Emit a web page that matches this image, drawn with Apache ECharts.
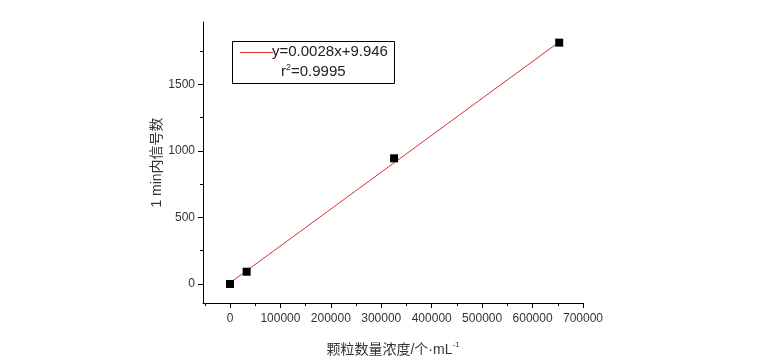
<!DOCTYPE html>
<html>
<head>
<meta charset="utf-8">
<script src="https://cdn.jsdelivr.net/npm/echarts@6/dist/echarts.min.js"></script>
<style>html,body{margin:0;padding:0;background:#fff;}#c{width:757px;height:360px;}</style>
</head>
<body>
<div id="c"></div>
<script>
// Data
var concX = [0, 33100, 325400, 652800];
var signalY = [0, 92, 944, 1813];
var fitX = [0, 652800];
var fitY = [8, 1818];
var xMajorTicks = [0, 100000, 200000, 300000, 400000, 500000, 600000, 700000];
var xMinorTicks = [-50000, 50000, 150000, 250000, 350000, 450000, 550000, 650000];
var yMajorTicks = [0, 500, 1000, 1500];
var yMinorTicks = [250, 750, 1250, 1750];
var fitLabel = 'y=0.0028x+9.946';
var r2Label = '0.9995';

var FONT = 'Liberation Sans, Arial, Noto Sans CJK SC, sans-serif';
var chart = echarts.init(document.getElementById('c'), null, {renderer: 'canvas'});

var xMin = -53500, xMax = 700000, yMin = -143, yMax = 1968;
function plain(v) { return String(v); }

function majorAxisX() {
  return {
    type: 'value', position: 'bottom', min: xMin, max: xMax,
    axisLine: {show: true, onZero: false, lineStyle: {color: '#000', width: 1}},
    axisTick: {show: true, inside: false, length: 5, customValues: xMajorTicks, lineStyle: {color: '#000'}},
    axisLabel: {show: true, customValues: xMajorTicks, formatter: plain, color: '#333', fontFamily: FONT, fontSize: 12, margin: 10},
    splitLine: {show: false},
    name: '颗粒数量浓度/个·mL{sup|-1}',
    nameLocation: 'middle', nameGap: 38, nameMoveOverlap: false,
    nameTextStyle: {color: '#333', fontFamily: FONT, fontSize: 14,
      rich: {sup: {fontSize: 8, verticalAlign: 'top', padding: [0,0,10,0], color: '#333', fontFamily: FONT}}}
  };
}
function minorAxisX() {
  return {
    type: 'value', position: 'bottom', min: xMin, max: xMax,
    axisLine: {show: false, onZero: false},
    axisTick: {show: true, inside: false, length: 3, customValues: xMinorTicks, lineStyle: {color: '#000'}},
    axisLabel: {show: false}, splitLine: {show: false}
  };
}
function majorAxisY() {
  return {
    type: 'value', position: 'left', min: yMin, max: yMax,
    axisLine: {show: true, onZero: false, lineStyle: {color: '#000', width: 1}},
    axisTick: {show: true, inside: false, length: 5, customValues: yMajorTicks, lineStyle: {color: '#000'}},
    axisLabel: {show: true, customValues: yMajorTicks, formatter: plain, color: '#333', fontFamily: FONT, fontSize: 12, margin: 8},
    splitLine: {show: false},
    name: '1 min内信号数',
    nameLocation: 'middle', nameGap: 39, nameRotate: 90, nameMoveOverlap: false,
    nameTextStyle: {color: '#333', fontFamily: FONT, fontSize: 14}
  };
}
function minorAxisY() {
  return {
    type: 'value', position: 'left', min: yMin, max: yMax,
    axisLine: {show: false, onZero: false},
    axisTick: {show: true, inside: false, length: 3, customValues: yMinorTicks, lineStyle: {color: '#000'}},
    axisLabel: {show: false}, splitLine: {show: false}
  };
}

var fitData = fitX.map(function (x, i) { return [x, fitY[i]]; });
var ptData = concX.map(function (x, i) { return [x, signalY[i]]; });

chart.setOption({
  backgroundColor: '#fff',
  animation: false,
  grid: {left: 203, right: 174, top: 22, bottom: 57, containLabel: false, outerBoundsMode: 'none'},
  xAxis: [majorAxisX(), minorAxisX()],
  yAxis: [majorAxisY(), minorAxisY()],
  series: [
    {type: 'line', xAxisIndex: 0, yAxisIndex: 0, data: fitData, symbol: 'none',
      lineStyle: {color: '#d9302f', width: 1}, z: 2},
    {type: 'scatter', xAxisIndex: 0, yAxisIndex: 0, data: ptData, symbol: 'rect', symbolSize: 8,
      itemStyle: {color: '#000', opacity: 1}, z: 3}
  ],
  graphic: [
    {type: 'rect', left: 232, top: 41, shape: {width: 162, height: 42},
      style: {fill: '#fff', stroke: '#000', lineWidth: 1}, z: 10},
    {type: 'line', shape: {x1: 240, y1: 52.5, x2: 273, y2: 52.5},
      style: {stroke: '#d9302f', lineWidth: 1}, z: 11},
    {type: 'text', left: 272, top: 44,
      style: {text: fitLabel, fill: '#222', font: '15px ' + FONT}, z: 11},
    {type: 'text', left: 281, top: 63,
      style: {text: 'r{sup|2}=' + r2Label, fill: '#222', font: '15px ' + FONT,
        rich: {sup: {fontSize: 9, verticalAlign: 'top', padding: [0,0,8,0], fill: '#222', fontFamily: FONT}}}, z: 11}
  ]
});
</script>
</body>
</html>
